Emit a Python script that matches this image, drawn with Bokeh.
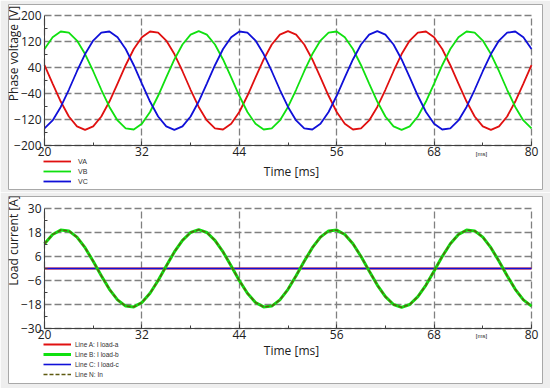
import math
from bokeh.plotting import figure
from bokeh.models import (Range1d, FixedTicker, Legend, LegendItem, Label,
                          LinearAxis, Grid)
from bokeh.layouts import column
from bokeh.embed import file_html
from bokeh.resources import INLINE

# ---------------- data ----------------
time_ms = list(range(20, 81))

va = [47.0, -9.5, -64.7, -110.8, -141.3, -152.0, -141.3, -110.8, -64.7, -9.5,
      47.0, 96.9, 133.2, 150.8, 147.2, 123.0, 81.4, 28.5, -28.5, -81.4,
      -123.0, -147.2, -150.8, -133.2, -96.9, -47.0, 9.5, 64.7, 110.8, 141.3,
      152.0, 141.3, 110.8, 64.7, 9.5, -47.0, -96.9, -133.2, -150.8, -147.2,
      -123.0, -81.4, -28.5, 28.5, 81.4, 123.0, 147.2, 150.8, 133.2, 96.9,
      47.0, -9.5, -64.7, -110.8, -141.3, -152.0, -141.3, -110.8, -64.7, -9.5,
      47.0]
vb = [96.9, 133.2, 150.8, 147.2, 123.0, 81.4, 28.5, -28.5, -81.4, -123.0,
      -147.2, -150.8, -133.2, -96.9, -47.0, 9.5, 64.7, 110.8, 141.3, 152.0,
      141.3, 110.8, 64.7, 9.5, -47.0, -96.9, -133.2, -150.8, -147.2, -123.0,
      -81.4, -28.5, 28.5, 81.4, 123.0, 147.2, 150.8, 133.2, 96.9, 47.0,
      -9.5, -64.7, -110.8, -141.3, -152.0, -141.3, -110.8, -64.7, -9.5, 47.0,
      96.9, 133.2, 150.8, 147.2, 123.0, 81.4, 28.5, -28.5, -81.4, -123.0,
      -147.2]
vc = [-147.2, -123.0, -81.4, -28.5, 28.5, 81.4, 123.0, 147.2, 150.8, 133.2,
      96.9, 47.0, -9.5, -64.7, -110.8, -141.3, -152.0, -141.3, -110.8, -64.7,
      -9.5, 47.0, 96.9, 133.2, 150.8, 147.2, 123.0, 81.4, 28.5, -28.5,
      -81.4, -123.0, -147.2, -150.8, -133.2, -96.9, -47.0, 9.5, 64.7, 110.8,
      141.3, 152.0, 141.3, 110.8, 64.7, 9.5, -47.0, -96.9, -133.2, -150.8,
      -147.2, -123.0, -81.4, -28.5, 28.5, 81.4, 123.0, 147.2, 150.8, 133.2,
      96.9]

i_load_b = [12.4, 17.0, 19.2, 18.8, 15.7, 10.4, 3.6, -3.6, -10.4, -15.7,
            -18.8, -19.2, -17.0, -12.4, -6.0, 1.2, 8.3, 14.1, 18.0, 19.4,
            18.0, 14.1, 8.3, 1.2, -6.0, -12.4, -17.0, -19.2, -18.8, -15.7,
            -10.4, -3.6, 3.6, 10.4, 15.7, 18.8, 19.2, 17.0, 12.4, 6.0,
            -1.2, -8.3, -14.1, -18.0, -19.4, -18.0, -14.1, -8.3, -1.2, 6.0,
            12.4, 17.0, 19.2, 18.8, 15.7, 10.4, 3.6, -3.6, -10.4, -15.7,
            -18.8]
i_load_a = [0.0] * len(time_ms)
i_load_c = [0.0] * len(time_ms)
i_n = list(i_load_b)

t_min, t_max = 20, 80
v_min, v_max = -200, 200
i_min, i_max = -30, 30
x_ticks = [20, 32, 44, 56, 68, 80]
x_minor = [26, 38, 50, 62, 74]
v_ticks = [-200, -120, -40, 40, 120, 200]
v_minor = [-160, -80, 0, 80, 160]
i_ticks = [-30, -18, -6, 6, 18, 30]
i_minor = [-24, -12, 0, 12, 24]

# ---------------- style / layout constants ----------------
RED = "#e01010"
GREEN = "#10e010"
BLUE = "#1010d8"
OLIVE = "#5e5a10"
GRID = "#808080"
PANEL = "#eeeeee"
FONT = "Open Sans"
W = 550
FL, FR = 8, 542            # white panel, page x
DX0, DX1 = 44, 531         # data box, page x


def span(v0, v1, p0, p1, f0, f1):
    """range that puts value v0 at pixel p0 and v1 at pixel p1 on a frame from f0 to f1"""
    s = (v1 - v0) / (p1 - p0)
    a, b = v0 + (f0 - p0) * s, v0 + (f1 - p0) * s
    return Range1d(min(a, b), max(a, b))


def panel(height, ftop, fbot, ymin, ymax, ytop_px, ybot_px, yt, ym):
    p = figure(width=W, height=height, output_backend="svg", toolbar_location=None,
               x_axis_location=None, y_axis_location=None,
               x_range=span(t_min, t_max, DX0, DX1, FL, FR),
               y_range=span(ymax, ymin, ytop_px, ybot_px, ftop, fbot),
               min_border_left=FL, min_border_right=W - FR,
               min_border_top=ftop, min_border_bottom=height - fbot)
    for g in p.grid:
        g.visible = False
    p.background_fill_color = "white"
    p.border_fill_color = PANEL
    p.outline_line_color = "#a8a8a8"
    p.outline_line_width = 1

    xt = FixedTicker(ticks=x_ticks, minor_ticks=x_minor)
    ytk = FixedTicker(ticks=yt, minor_ticks=ym)
    gx = Grid(dimension=0, ticker=xt)
    gy = Grid(dimension=1, ticker=ytk)
    if "cross_bounds" in Grid.properties():
        gx.cross_bounds = (ymin, ymax)
        gy.cross_bounds = (t_min, t_max)
    for g in (gx, gy):
        g.grid_line_color = GRID
        g.grid_line_width = 1.3
        g.grid_line_dash = "7 3"
        p.add_layout(g)

    xa = LinearAxis(ticker=xt, fixed_location=ymin, bounds=(t_min, t_max))
    ya = LinearAxis(ticker=ytk, fixed_location=t_min, bounds=(ymin, ymax))
    for ax in (xa, ya):
        ax.axis_line_color = "#404040"
        ax.axis_line_width = 1
        ax.major_tick_out = 0
        ax.minor_tick_out = 0
        ax.minor_tick_in = 3
        ax.major_tick_line_color = "#404040"
        ax.minor_tick_line_color = "#404040"
        ax.major_label_text_font = FONT
        ax.major_label_text_font_size = "12px"
        ax.major_label_text_color = "#202020"
    xa.major_tick_in = 4
    ya.major_tick_in = 0
    xa.major_label_standoff = 1
    ya.major_label_standoff = 3
    p.add_layout(xa, "below")
    p.add_layout(ya, "left")
    return p


def text(p, s, sx, sy, size="12px", angle=0.0, font=FONT):
    p.add_layout(Label(x=sx, y=sy, x_units="screen", y_units="screen", text=s,
                       angle=angle, text_align="center", text_baseline="middle",
                       text_font=font, text_font_size=size, text_color="#202020"))


def legend(p, items, loc, standoff, size):
    lg = Legend(items=[LegendItem(label=k, renderers=[r]) for k, r in items],
                location=loc, orientation="vertical", glyph_width=28, glyph_height=10,
                label_height=10, label_standoff=standoff, spacing=0, padding=0, margin=0,
                border_line_color=None, background_fill_alpha=0,
                label_text_font="Liberation Sans", label_text_font_size=size,
                label_text_color="#303030")
    p.add_layout(lg)


# ---------------- top: phase voltages (page y 0..192, white 4..189) ----------------
p1 = panel(192, 4, 189, v_min, v_max, 15, 145, v_ticks, v_minor)
r_va = p1.line(time_ms, va, line_color=RED, line_width=1.8)
r_vb = p1.line(time_ms, vb, line_color=GREEN, line_width=1.8)
r_vc = p1.line(time_ms, vc, line_color=BLUE, line_width=1.8)
text(p1, "Phase voltage [V]", 5, 136, angle=math.pi / 2)
text(p1, "Time [ms]", 283, 18)
text(p1, "[ms]", 473, 36, size="6px", font="Liberation Sans")
legend(p1, [("VA", r_va), ("VB", r_vb), ("VC", r_vc)], (35, 3), 7, "7px")

# ---------------- bottom: load currents (page y 192..388, white 196..383) ----------------
p2 = panel(196, 4, 191, i_min, i_max, 16, 136, i_ticks, i_minor)
r_ia = p2.line(time_ms, i_load_a, line_color=RED, line_width=2)
r_ic = p2.line(time_ms, i_load_c, line_color=BLUE, line_width=1.6)
r_ib = p2.line(time_ms, i_load_b, line_color=GREEN, line_width=3)
r_in = p2.line(time_ms, i_n, line_color=OLIVE, line_width=1.4, line_dash="4 2")
text(p2, "Load current [A]", 5, 143, angle=math.pi / 2)
text(p2, "Time [ms]", 283, 33)
text(p2, "[ms]", 473, 48, size="6px", font="Liberation Sans")
legend(p2, [("Line A: I load-a", r_ia), ("Line B: I load-b", r_ib),
            ("Line C: I load-c", r_ic), ("Line N: In", r_in)], (35, 4), 4, "6.5px")

p = column(p1, p2, spacing=0)

open("out.html", "w").write(file_html(p, INLINE))
